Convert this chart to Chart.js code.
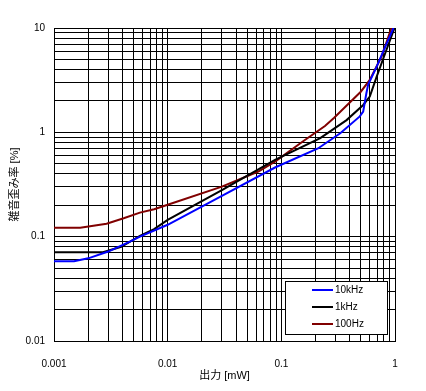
<!DOCTYPE html>
<html>
<head>
<meta charset="utf-8">
<script src="https://cdn.jsdelivr.net/npm/chart.js@4/dist/chart.umd.min.js"></script>
<style>
html,body{margin:0;padding:0;background:#fff;}
#wrap{width:426px;height:391px;}
</style>
</head>
<body>
<div id="wrap"><canvas id="c" width="426" height="391"></canvas></div>
<script>
// ---- data ----
const seriesLabels = ['10kHz', '1kHz', '100Hz'];
const x10k = [0.001, 0.0015, 0.002, 0.003, 0.0047, 0.0057, 0.01, 0.03, 0.088, 0.21, 0.33, 0.49, 0.525, 0.56, 0.58, 0.69, 0.87, 0.97];
const y10k = [0.058, 0.058, 0.062, 0.072, 0.090, 0.100, 0.130, 0.246, 0.46, 0.70, 0.98, 1.42, 1.58, 2.37, 2.85, 4.26, 7.67, 10];
const x1k = [0.001, 0.0027, 0.0039, 0.0057, 0.0076, 0.01, 0.03, 0.088, 0.22, 0.375, 0.525, 0.6, 0.69, 0.84, 0.99];
const y1k = [0.071, 0.071, 0.080, 0.102, 0.118, 0.145, 0.28, 0.544, 0.88, 1.31, 1.83, 2.2, 3.42, 6.15, 10];
const x100 = [0.001, 0.0017, 0.0029, 0.0041, 0.0057, 0.0076, 0.01, 0.03, 0.0627, 0.088, 0.16, 0.242, 0.29, 0.5, 0.6, 0.76, 0.93];
const y100 = [0.122, 0.122, 0.133, 0.150, 0.170, 0.183, 0.202, 0.302, 0.421, 0.524, 0.84, 1.15, 1.37, 2.45, 3.18, 5.3, 10];
const xTickLabels = ['0.001', '0.01', '0.1', '1'];
const yTickLabels = ['0.01', '0.1', '1', '10'];
const xTitle = '出力 [mW]';
const yTitle = '雑音歪み率 [%]';
const colors = ['#0000ff', '#000000', '#800000'];

const FONT = "'Liberation Sans', Arial, 'Noto Sans CJK JP', sans-serif";

function logTicks(labels) {
  const majors = labels.map(Number);
  const out = [];
  for (let i = 0; i < majors.length; i++) {
    const base = majors[i];
    if (i === majors.length - 1) { out.push(base); break; }
    for (let k = 1; k <= 9; k++) out.push(Number((k * base).toPrecision(3)));
  }
  return out;
}
function pts(xs, ys) { return xs.map((x, i) => ({x: x, y: ys[i]})); }

const xs = [x10k, x1k, x100], ys = [y10k, y1k, y100];
const datasets = seriesLabels.map((l, i) => ({
  label: l, data: pts(xs[i], ys[i]), borderColor: colors[i], backgroundColor: colors[i],
  borderWidth: 2, pointRadius: 0, tension: 0, fill: false
}));

const boxLegend = {
  id: 'boxLegend',
  afterDraw(chart) {
    const ctx = chart.ctx;
    ctx.save();
    ctx.fillStyle = '#fff';
    ctx.fillRect(286, 282, 102, 53);
    ctx.strokeStyle = '#000';
    ctx.lineWidth = 1;
    ctx.strokeRect(285.5, 281.5, 102, 53);
    const rowsY = [290, 307, 324];
    ctx.font = '10px ' + FONT;
    ctx.textBaseline = 'middle';
    ctx.textAlign = 'left';
    chart.data.datasets.forEach((d, i) => {
      ctx.strokeStyle = d.borderColor;
      ctx.lineWidth = 2;
      ctx.beginPath();
      ctx.moveTo(312, rowsY[i]);
      ctx.lineTo(333, rowsY[i]);
      ctx.stroke();
      ctx.fillStyle = '#000';
      ctx.fillText(d.label, 335, rowsY[i] + 0.5);
    });
    ctx.restore();
  }
};

new Chart(document.getElementById('c'), {
  type: 'line',
  data: {datasets: datasets},
  plugins: [boxLegend],
  options: {
    responsive: false,
    devicePixelRatio: 1,
    animation: false,
    layout: {padding: {top: 28, right: 31, left: 0, bottom: 0}},
    plugins: {legend: {display: false}, tooltip: {enabled: false}},
    scales: {
      x: {
        type: 'logarithmic', min: 0.001, max: 1,
        afterBuildTicks: (s) => { s.ticks = logTicks(xTickLabels).map(v => ({value: v})); },
        afterFit: (s) => { s.height = 50; },
        grid: {color: '#000', lineWidth: 1, drawTicks: false},
        border: {color: '#000', width: 1},
        ticks: {
          autoSkip: false, maxRotation: 0, padding: 17, color: '#000',
          font: {family: FONT, size: 10},
          callback: (v) => { const i = xTickLabels.map(Number).indexOf(Number(v)); return i >= 0 ? xTickLabels[i] : ''; }
        },
        title: {display: true, text: xTitle, color: '#000', font: {family: FONT, size: 11}, padding: {top: 0, bottom: 8}}
      },
      y: {
        type: 'logarithmic', min: 0.01, max: 10,
        afterBuildTicks: (s) => { s.ticks = logTicks(yTickLabels).map(v => ({value: v})); },
        afterFit: (s) => { s.width = 54; },
        grid: {color: '#000', lineWidth: 1, drawTicks: false},
        border: {color: '#000', width: 1},
        ticks: {
          autoSkip: false, padding: 9, color: '#000',
          font: {family: FONT, size: 10},
          callback: (v) => { const i = yTickLabels.map(Number).indexOf(Number(v)); return i >= 0 ? yTickLabels[i] : ''; }
        },
        title: {display: true, text: yTitle, color: '#000', font: {family: FONT, size: 11}, padding: {top: 8, bottom: 0}}
      }
    }
  }
});
</script>
</body>
</html>
